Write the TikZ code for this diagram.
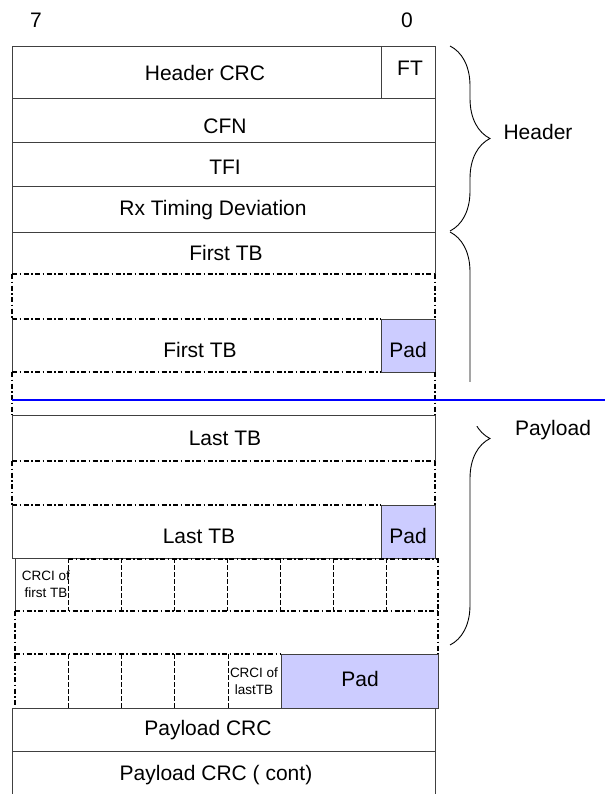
\documentclass[tikz,border=0pt]{standalone}
\usepackage{fontspec}
\setmainfont{Liberation Sans}
\usetikzlibrary{decorations.pathreplacing}
\definecolor{padblue}{HTML}{CCCCFF}
\definecolor{framegray}{HTML}{404040}
\tikzset{
	frame/.style={draw=framegray, line width=0.9pt},
	dashdotline/.style={draw=black, line width=1.3pt, dash pattern=on 5pt off 2.5pt on 1.5pt off 2.5pt},
	celldiv/.style={draw=black, line width=0.9pt, dash pattern=on 5pt off 2pt},
	padbox/.style={frame, fill=padblue},
	fieldtext/.style={font=\fontsize{21}{25}\selectfont, inner sep=0pt},
	smalltext/.style={font=\fontsize{13.5}{17}\selectfont, inner sep=0pt, align=center},
	bracket/.style={draw=black, line width=0.9pt, decorate, decoration={brace, amplitude=40pt}}
}
\newcommand{\gaprow}[4] % left x, right x, top y, bottom y
{
	\draw[dashdotline] (#1,#3) -- (#1,#4);
	\draw[dashdotline] (#2,#3) -- (#2,#4);
}

\begin{document}
\begin{tikzpicture}[x=1pt, y=-1pt]
	\useasboundingbox (0,0) rectangle (605,794);
	% bit numbers
	\node[fieldtext] (bitseven) at (36,20) {7};
	\node[fieldtext] (bitzero) at (407,20) {0};
	
	% header
	\draw[frame] (12,46) rectangle (435,232);
	\draw[frame] (381,46) -- (381,98);
	\draw[frame] (12,98) -- (435,98);
	\draw[frame] (12,142) -- (435,142);
	\draw[frame] (12,186) -- (435,186);
	\node[fieldtext] (hdrcrc) at (205,73) {Header CRC};
	\node[fieldtext] (ft) at (410,68) {FT};
	\node[fieldtext] (cfn) at (225,126) {CFN};
	\node[fieldtext] (tfi) at (225,167) {TFI};
	\node[fieldtext] (rxtd) at (213,210) {Rx Timing Deviation};
	
	% first TB
	\draw[frame] (12,274) -- (12,232) -- (435,232) -- (435,274);
	\draw[dashdotline] (12,274) -- (435,274);
	\gaprow{12}{435}{274}{319};
	\draw[dashdotline] (12,319) -- (381,319);
	\draw[frame] (12,319) -- (12,372);
	\draw[padbox] (381,319) rectangle (435,372);
	\draw[dashdotline] (12,372) -- (381,372);
	\gaprow{12}{435}{372}{415};
	\node[fieldtext] (firsttop) at (226,253) {First TB};
	\node[fieldtext] (firstpad) at (200,350) {First TB};
	\node[fieldtext] (padone) at (408,350) {Pad};
	
	% last TB
	\draw[frame] (12,461) -- (12,415) -- (435,415) -- (435,461);
	\draw[dashdotline] (12,461) -- (435,461);
	\gaprow{12}{435}{461}{505};
	\draw[dashdotline] (12,505) -- (381,505);
	\draw[frame] (12,505) -- (12,558) -- (381,558);
	\draw[padbox] (381,505) rectangle (435,558);
	\node[fieldtext] (lasttop) at (225,438) {Last TB};
	\node[fieldtext] (lastpad) at (199,536) {Last TB};
	\node[fieldtext] (padtwo) at (408,536) {Pad};
	
	% CRCI cells
	\draw[frame] (15,558) -- (15,611);
	\draw[dashdotline] (68,559) -- (438,559);
	\foreach \x in {68,121,...,386}
		\draw[celldiv] (\x,558) -- (\x,611);
	\draw[dashdotline] (438,558) -- (438,611);
	\draw[dashdotline] (15,611) -- (438,611);
	\gaprow{15}{438}{611}{654};
	\node[smalltext] (crcifirst) at (46,584) {CRCI of\\first TB};
	
	\draw[dashdotline] (15,654) -- (281,654);
	\draw[dashdotline] (15,654) -- (15,708);
	\foreach \x in {68,121,174,228}
		\draw[celldiv] (\x,654) -- (\x,708);
	\draw[padbox] (281,654) rectangle (438,708);
	\node[smalltext] (crcilast) at (254,681) {CRCI of\\lastTB};
	\node[fieldtext] (padthree) at (360,679) {Pad};
	
	% payload CRC
	\draw[frame] (12,794) -- (12,708) -- (435,708) -- (435,794);
	\draw[frame] (12,751) -- (435,751);
	\node[fieldtext] (paycrc) at (208,730) {Payload CRC};
	\node[fieldtext] (paycont) at (216,775) {Payload CRC ( cont)};
	
	% braces
	\draw[bracket] (450,46) -- (450,231);
	\node[fieldtext] (hdrlabel) at (538,132) {Header};
	\draw[bracket] (450,232) -- (450,645);
	\fill[white] (458,382) rectangle (486,426);
	\node[fieldtext] (paylabel) at (553,430) {Payload};
	
	% page cut
	\draw[blue, line width=1.5pt] (12,400) -- (605,400);
\end{tikzpicture}
\end{document}
